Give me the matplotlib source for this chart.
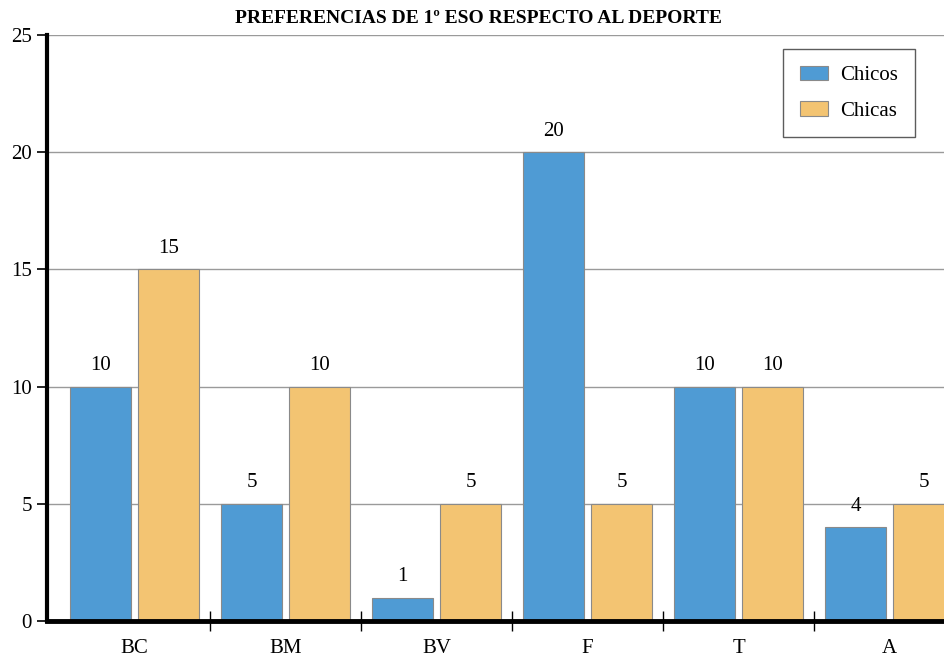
import matplotlib
matplotlib.use("Agg")
import matplotlib.pyplot as plt
import numpy as np

categories = ["BC", "BM", "BV", "F", "T", "A"]
chicos = [10, 5, 1, 20, 10, 4]
chicas = [15, 10, 5, 5, 10, 5]
series_names = ["Chicos", "Chicas"]
yticks = [0, 5, 10, 15, 20, 25]
title = "PREFERENCIAS DE 1º ESO RESPECTO AL DEPORTE"

blue = "#4f9bd4"
orange = "#f3c472"
edge = "#8a8a8a"

plt.rcParams["font.family"] = ["Liberation Serif", "DejaVu Serif"]

fig = plt.figure(figsize=(9.44, 6.62), dpi=100)
ax = fig.add_axes([0.0498, 0.0619, 0.9502, 0.8851])

x = np.arange(len(categories))
w = 0.404
off = 0.225
b1 = ax.bar(x - off, chicos, w, color=blue, edgecolor=edge, linewidth=0.8,
            label=series_names[0], zorder=3)
b2 = ax.bar(x + off, chicas, w, color=orange, edgecolor=edge, linewidth=0.8,
            label=series_names[1], zorder=3)

for bars, vals in ((b1, chicos), (b2, chicas)):
    for r, v in zip(bars, vals):
        ax.text(r.get_x() + r.get_width() / 2, v + 0.5, str(v),
                ha="center", va="bottom", fontsize=15, zorder=4)

ax.set_xlim(-0.579, 5.36)
ax.set_ylim(0, 25)
ax.set_yticks(yticks)
ax.set_yticklabels([str(t) for t in yticks], fontsize=15)
ax.yaxis.grid(True, color="#9a9a9a", linewidth=1.0, zorder=0)
ax.tick_params(axis="y", direction="out", length=7, width=1.2, pad=4)

# category labels centred on groups, tick marks between groups
ax.set_xticks(x)
ax.set_xticklabels(categories, fontsize=15)
ax.tick_params(axis="x", length=0, pad=13)
ax.set_xticks(np.arange(len(categories) - 1) + 0.5, minor=True)
ax.tick_params(axis="x", which="minor", direction="inout", length=14, width=1.0)

for s in ("top", "right"):
    ax.spines[s].set_visible(False)
ax.spines["left"].set_linewidth(3)
ax.spines["bottom"].set_linewidth(3.5)
ax.spines["left"].set_zorder(5)
ax.spines["bottom"].set_zorder(5)

fig.text(0.507, 0.972, title, ha="center", va="center", fontsize=14,
         fontweight="bold")

leg = ax.legend(loc="upper right", bbox_to_anchor=(0.9677, 0.976), fontsize=15,
                frameon=True, fancybox=False, edgecolor="#333333",
                borderaxespad=0, handlelength=1.35, handleheight=0.7,
                handletextpad=0.6, borderpad=0.8, labelspacing=0.75)
leg.get_frame().set_linewidth(1.0)

fig.savefig("out.png", dpi=100)
